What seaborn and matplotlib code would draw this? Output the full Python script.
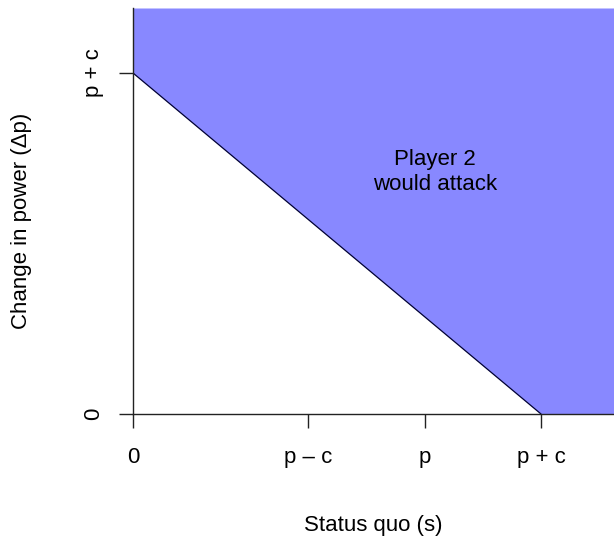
import numpy as np
import pandas as pd
import matplotlib
matplotlib.use("Agg")
import matplotlib.pyplot as plt
import seaborn as sns

# model parameters (scaled so that p + c = 1)
p = 0.715
c = 0.285

x_ticks = [0, p - c, p, p + c]
x_tick_labels = ["0", "p \u2013 c", "p", "p + c"]
y_ticks = [0, p + c]
y_tick_labels = ["0", "p + c"]

# indifference line: s + dp = p + c
boundary_s = [0, p + c]
boundary_dp = [p + c, 0]

sns.set_style("ticks")
plt.rcParams["font.family"] = ["Liberation Sans", "DejaVu Sans"]
plt.rcParams["text.color"] = "black"
plt.rcParams["axes.labelcolor"] = "black"

fig = plt.figure(figsize=(6.14, 5.36), dpi=100)
W, H = 614, 536
ax = fig.add_axes([133 / W, (H - 414) / H, 481 / W, 406 / H])

xmax = 481 / 408 * (p + c)
ymax = 406 / 341 * (p + c)
ax.set_xlim(0, xmax)
ax.set_ylim(0, ymax)

# region where player 2 attacks
fill_x = [0, p + c, xmax]
fill_low = [p + c, 0, 0]
ax.fill_between(fill_x, fill_low, ymax, color="#8888ff", lw=0, zorder=1)

df = pd.DataFrame({"s": boundary_s, "dp": boundary_dp})
sns.lineplot(data=df, x="s", y="dp", ax=ax, color="#000033", lw=0.9, zorder=2)

sns.despine(ax=ax, top=True, right=True)
for side in ["left", "bottom"]:
    ax.spines[side].set_linewidth(1.0)
    ax.spines[side].set_color("#222222")
    ax.spines[side].set_zorder(3)

ax.set_xticks(x_ticks)
ax.set_xticklabels(x_tick_labels)
ax.set_yticks(y_ticks)
ax.set_yticklabels(y_tick_labels)
ax.tick_params(axis="both", direction="out", length=10, width=1.0,
               color="#222222", labelsize=16, labelcolor="black")
ax.tick_params(axis="x", pad=14)
ax.tick_params(axis="y", pad=11, labelrotation=90)
for lbl in ax.get_yticklabels():
    lbl.set_verticalalignment("center")

ax.set_xlabel("Status quo (s)", fontsize=16, color="black")
ax.set_ylabel("Change in power (\u0394p)", fontsize=16, color="black")
ax.xaxis.set_label_coords(0.5, -0.249)
ax.yaxis.set_label_coords(-0.21, 0.475)

ax.text((435 - 133) / 408 * (p + c), (414 - 172) / 341 * (p + c),
        "Player 2\nwould attack", ha="center", va="center", fontsize=16,
        color="black", linespacing=1.3, zorder=4)

fig.savefig("out.png", dpi=100)
